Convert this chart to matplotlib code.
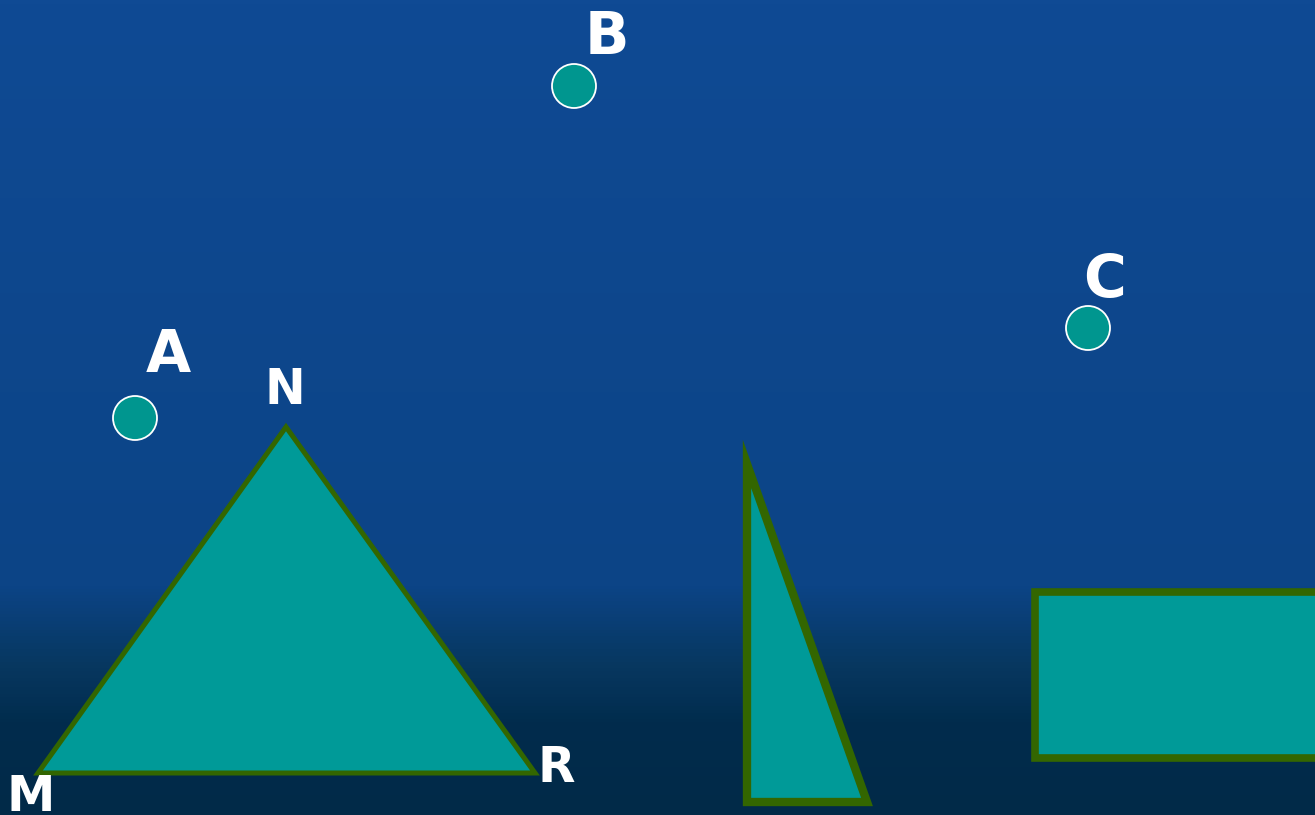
import numpy as np
import matplotlib.pyplot as plt
from matplotlib.patches import Polygon, Rectangle, Circle
from matplotlib.colors import LinearSegmentedColormap

# puntos sueltos (pixeles de la imagen, y hacia abajo)
pt_names = ['A', 'B', 'C']
pt_x = [135, 574, 1088]
pt_y = [418, 86, 328]

# triangulo MNR
tri_names = ['M', 'N', 'R']
tri_x = [38, 286, 535]
tri_y = [773, 427, 773]

# triangulo rectangulo y rectangulo
rt_x = [747, 747, 867]
rt_y = [464, 802, 802]
rect_x0, rect_y0, rect_x1, rect_y1 = 1035, 592, 1330, 758

fill = '#009a98'
borde = '#336600'

fig = plt.figure(figsize=(13.15, 8.15), dpi=100)
ax = fig.add_axes([0, 0, 1, 1])
ax.set_xlim(0, 1315)
ax.set_ylim(815, 0)
ax.axis('off')

# fondo azul con degradado hacia abajo
cmap = LinearSegmentedColormap.from_list('fondo', [(0, '#0f4a94'), (0.72, '#0c4486'),
                                                    (0.82, '#07375f'), (0.89, '#012c4d'),
                                                    (1, '#022a48')])
grad = np.linspace(0, 1, 815).reshape(-1, 1)
ax.imshow(grad, cmap=cmap, aspect='auto', extent=[0, 1315, 815, 0], zorder=0)

ax.add_patch(Polygon(list(zip(tri_x, tri_y)), closed=True, facecolor=fill,
                     edgecolor=borde, linewidth=3.6, joinstyle='miter', zorder=2))
ax.add_patch(Polygon(list(zip(rt_x, rt_y)), closed=True, facecolor=fill,
                     edgecolor=borde, linewidth=6, joinstyle='miter', zorder=2))
ax.add_patch(Rectangle((rect_x0, rect_y0), rect_x1 - rect_x0, rect_y1 - rect_y0,
                       facecolor=fill, edgecolor=borde, linewidth=5.5, zorder=2))

for x, y in zip(pt_x, pt_y):
    ax.add_patch(Circle((x, y), 22, facecolor='#00968f', edgecolor='white',
                        linewidth=1.3, zorder=3))

lab_pts = {'A': (168, 356), 'B': (607, 37), 'C': (1105, 281)}
for n in pt_names:
    ax.text(*lab_pts[n], n, color='white', fontsize=42, fontweight='bold',
            ha='center', va='center', zorder=4)

lab_tri = {'M': (31, 797), 'N': (285, 390), 'R': (556, 768)}
for n in tri_names:
    ax.text(*lab_tri[n], n, color='white', fontsize=35, fontweight='bold',
            ha='center', va='center', zorder=4)

fig.savefig('out.png', dpi=100)
